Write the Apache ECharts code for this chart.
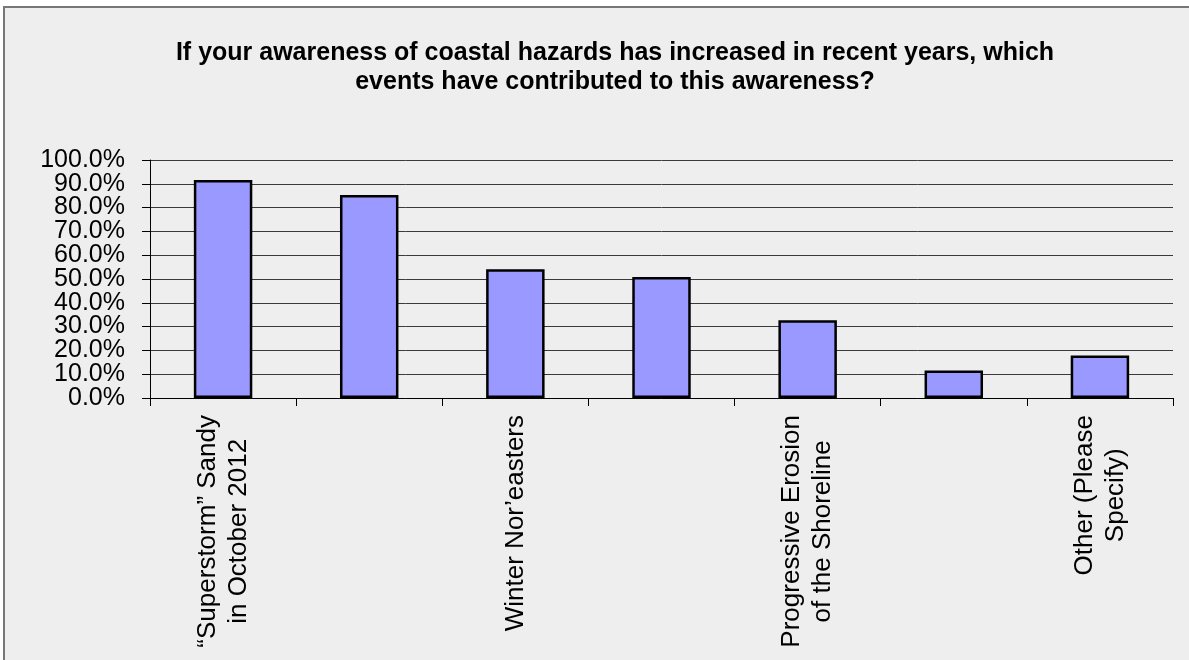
<!DOCTYPE html>
<html>
<head>
<meta charset="utf-8">
<title>Coastal hazards awareness</title>
<script src="https://cdn.jsdelivr.net/npm/echarts@6/dist/echarts.min.js"></script>
<style>
  html, body { margin: 0; padding: 0; background: #fff; }
  #chartmain { width: 1189px; height: 660px; }
</style>
</head>
<body>
<div id="chartmain"></div>
<script>
var titleText = 'If your awareness of coastal hazards has increased in recent years, which\nevents have contributed to this awareness?'
// every other label is skipped on the axis, like in the original
var categories = [
  '\u201cSuperstorm\u201d Sandy\nin October 2012',
  'Hurricane Irene\nin August 2011',
  'Winter Nor\u2019easters',
  'Tropical Storms',
  'Progressive Erosion\nof the Shoreline',
  'News or Media\nReports',
  'Other (Please\nSpecify)',
]
var percents = [91.6, 85.3, 54.1, 50.8, 32.7, 11.6, 17.9]
// labels are packed so tight that echarts drops some, so the ticks are
// split on two axes: 0,20..100 and 10,30..90
var evenTicks = { min: 0, max: 100, interval: 20 }
var oddTicks = { min: 10, max: 90, interval: 20 }

var fontFam = 'Liberation Sans, Arial, sans-serif'
var plotTop = 160
var plotBottom = 262
var step = (660 - plotTop - plotBottom) / 10

var yLabel = {
  margin: 25,
  color: '#000',
  fontFamily: fontFam,
  fontSize: 25,
  formatter: function (v) { return v.toFixed(1) + '%' },
}

var option = {
  backgroundColor: '#ffffff',
  animation: false,
  graphic: [
    {
      type: 'rect',
      z: -100,
      shape: { x: 4, y: 7, width: 1200, height: 700 },
      style: { fill: '#eeeeee', stroke: '#777777', lineWidth: 2 },
    },
  ],
  title: {
    text: titleText,
    left: 610,
    textAlign: 'center',
    top: 34,
    textStyle: {
      fontFamily: fontFam,
      fontSize: 25,
      fontWeight: 'bold',
      lineHeight: 29,
      color: '#000',
    },
  },
  grid: [
    { left: 150, right: 16, top: plotTop, bottom: plotBottom },
    { left: 150, right: 16, top: plotTop + step, bottom: plotBottom + step },
  ],
  xAxis: [
    {
      type: 'category',
      data: categories,
      axisLine: { show: true, lineStyle: { color: '#000', width: 1 } },
      axisTick: { show: true, interval: 0, length: 8, lineStyle: { color: '#000' } },
      axisLabel: {
        interval: 1,
        rotate: 90,
        margin: 17,
        color: '#000',
        fontFamily: fontFam,
        fontSize: 26,
        formatter: function (v) {
          return v.split('\n').map(function (s) { return '{c|' + s + '}' }).join('\n')
        },
        rich: {
          c: { align: 'center', fontFamily: fontFam, fontSize: 26, lineHeight: 31, color: '#000' },
        },
      },
      splitLine: { show: false },
      z: 3,
    },
    { gridIndex: 1, type: 'value', show: false },
  ],
  yAxis: [
    {
      type: 'value',
      min: evenTicks.min,
      max: evenTicks.max,
      interval: evenTicks.interval,
      axisLine: { show: true, lineStyle: { color: '#000', width: 1 } },
      axisTick: { show: true, length: 8, lineStyle: { color: '#000' } },
      axisLabel: yLabel,
      splitLine: { show: true, lineStyle: { color: '#3a3a3a', width: 1 } },
    },
    {
      gridIndex: 1,
      type: 'value',
      min: oddTicks.min,
      max: oddTicks.max,
      interval: oddTicks.interval,
      axisLine: { show: false },
      axisTick: { show: true, length: 8, lineStyle: { color: '#000' } },
      axisLabel: yLabel,
      splitLine: { show: true, lineStyle: { color: '#3a3a3a', width: 1 } },
    },
  ],
  series: [
    {
      type: 'bar',
      data: percents,
      barWidth: '40%',
      itemStyle: { color: '#9999ff', borderColor: '#000', borderWidth: 2.5 },
      z: 5,
    },
  ],
}

var myChart = echarts.init(document.getElementById('chartmain'))
myChart.setOption(option)
</script>
</body>
</html>
